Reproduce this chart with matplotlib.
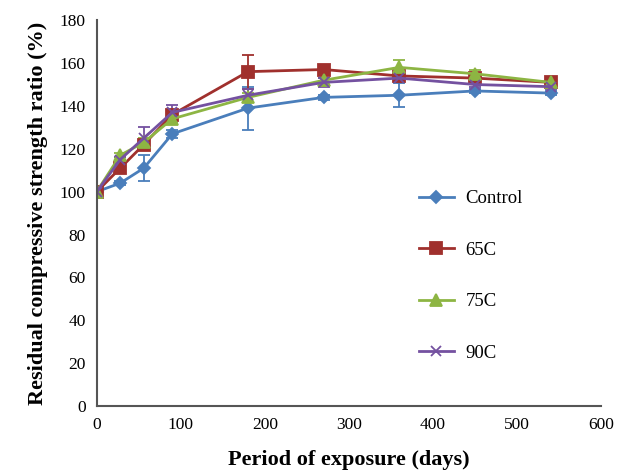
import matplotlib
matplotlib.use("Agg")
import matplotlib.pyplot as plt

# Exposure days
days = [0, 28, 56, 90, 180, 270, 360, 450, 540]

# Residual compressive strength ratio (%)
control = [100, 104, 111, 127, 139, 144, 145, 147, 146]
c65 = [100, 111, 122, 136, 156, 157, 154, 153, 151]
c75 = [100, 117, 123, 134, 144, 152, 158, 155, 151]
c90 = [100, 115, 125, 137, 145, 151, 153, 150, 149]

# error bars (+/-)
control_err = [0, 1, 6, 2, 10, 1, 5.5, 1, 1]
c65_err = [0, 1, 2, 2, 8, 2, 2, 2, 1]
c75_err = [0, 1, 2, 2, 2, 1, 3.5, 2, 1]
c90_err = [0, 1, 5, 3.5, 3, 2, 2, 1, 1]

plt.rcParams['font.family'] = ['Liberation Serif', 'DejaVu Serif']

fig = plt.figure(figsize=(6.28, 4.70), dpi=100)
ax = fig.add_axes([0.154, 0.136, 0.803, 0.821])

series = [
    ("Control", control, control_err, '#4A7EBB', 'D', 6),
    ("65C", c65, c65_err, '#A0302D', 's', 8),
    ("75C", c75, c75_err, '#8DB543', '^', 8),
    ("90C", c90, c90_err, '#7451A0', 'x', 7),
]
handles = []
for label, vals, err, col, mk, ms in series:
    cont = ax.errorbar(days, vals, yerr=err, color=col, marker=mk, markersize=ms,
                       linewidth=2, capsize=4, elinewidth=1.3, capthick=1.3,
                       markeredgewidth=1.3, label=label)
    handles.append(cont[0])

ax.set_xlim(0, 600)
ax.set_ylim(0, 180)
ax.set_xticks(range(0, 601, 100))
ax.set_yticks(range(0, 181, 20))
ax.tick_params(length=0, labelsize=12.5, pad=8)
for s in ['top', 'right']:
    ax.spines[s].set_visible(False)
for s in ['left', 'bottom']:
    ax.spines[s].set_color('#555555')
    ax.spines[s].set_linewidth(1.5)

ax.set_xlabel("Period of exposure (days)", fontsize=16, fontweight='bold', labelpad=12)
ax.set_ylabel("Residual compressive strength ratio (%)", fontsize=16, fontweight='bold', labelpad=8)

ax.legend(handles, [s[0] for s in series], loc='upper left', bbox_to_anchor=(0.605, 0.603),
          frameon=False, fontsize=13.5, labelspacing=1.83, handlelength=1.9,
          handletextpad=0.6)

fig.savefig("out.png", dpi=100)
